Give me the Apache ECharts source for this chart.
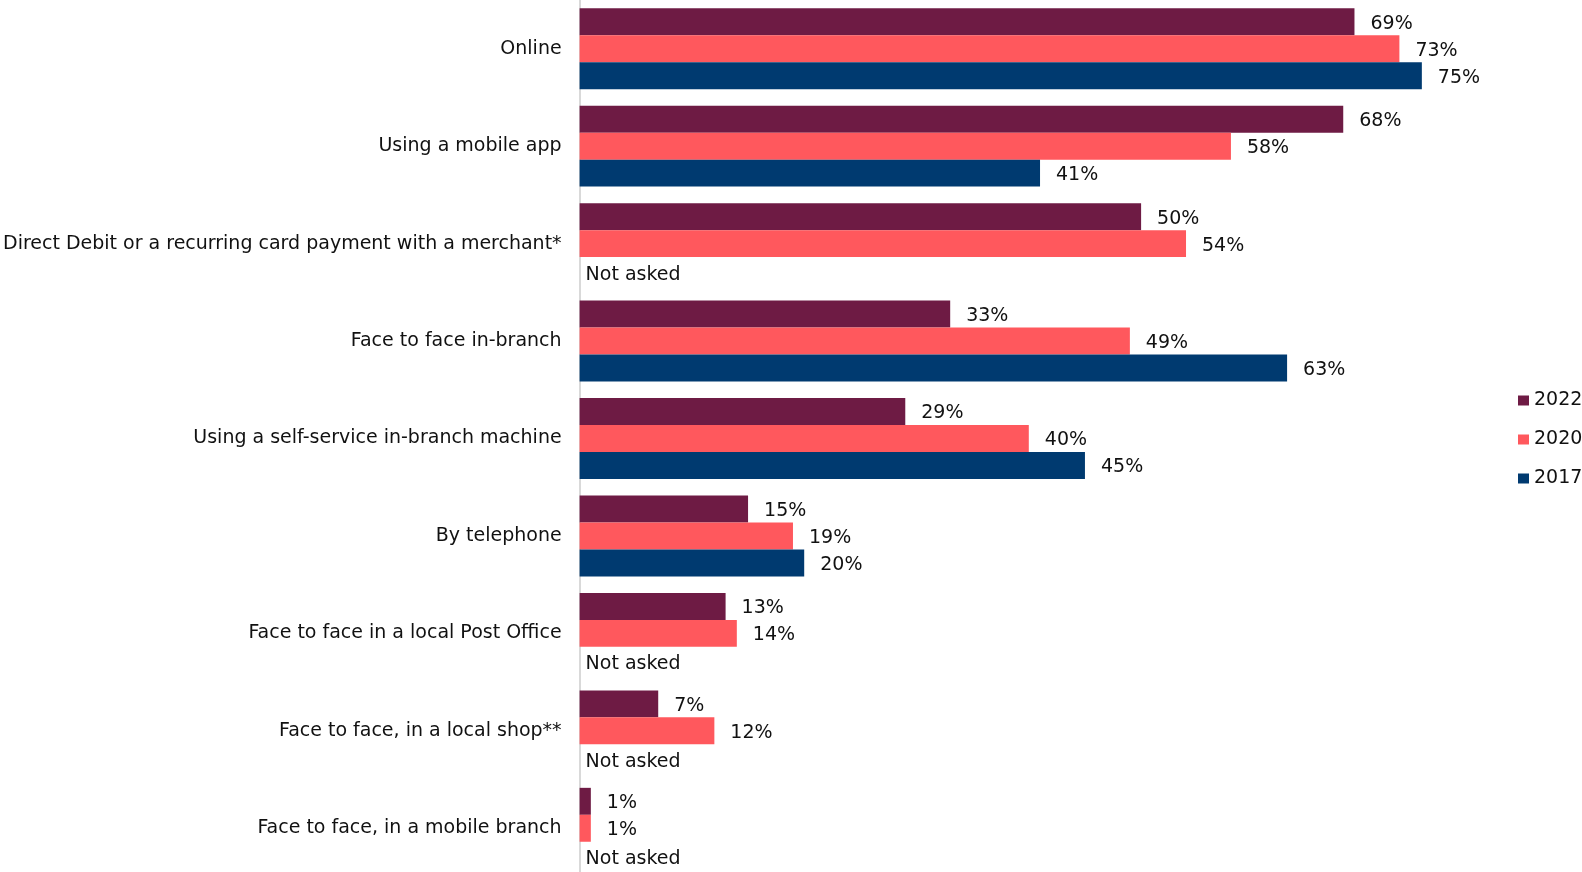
<!DOCTYPE html>
<html>
<head>
<meta charset="utf-8">
<script src="https://cdn.jsdelivr.net/npm/echarts@6/dist/echarts.min.js"></script>
<style>
  html, body { margin: 0; padding: 0; background: #fff; overflow: hidden; }
  #chart { width: 1582px; height: 880px; }
</style>
</head>
<body>
<div id="chart"></div>
<script>
// Ways of managing money, share of respondents by survey year
const categories = [
  'Online',
  'Using a mobile app',
  'Direct Debit or a recurring card payment with a merchant*',
  'Face to face in-branch',
  'Using a self-service in-branch machine',
  'By telephone',
  'Face to face in a local Post Office',
  'Face to face, in a local shop**',
  'Face to face, in a mobile branch'
];
const years = ['2022', '2020', '2017'];
const values2022 = [69, 68, 50, 33, 29, 15, 13, 7, 1];
const values2020 = [73, 58, 54, 49, 40, 19, 14, 12, 1];
// null = question not asked that year
const values2017 = [75, 41, null, 63, 45, 20, null, null, null];
const colors = ['#6e1b44', '#ff585d', '#003a70'];
const notAskedText = 'Not asked';

const FONT = 'DejaVu Sans, Verdana, sans-serif';
const TEXT_COLOR = '#111111';

function buildData(values) {
  return values.map(v => {
    if (v === null) {
      return {
        value: 0,
        itemStyle: { color: 'rgba(0,0,0,0)' },
        label: { formatter: notAskedText, distance: 6, offset: [0, 4] }
      };
    }
    return v;
  });
}

const seriesValues = [values2022, values2020, values2017];

const option = {
  animation: false,
  backgroundColor: '#ffffff',
  textStyle: { fontFamily: FONT },
  grid: { left: 579, top: -1, width: 899, height: 878, containLabel: false },
  legend: {
    data: years,
    orient: 'vertical',
    left: 1513,
    top: 386,
    itemWidth: 11,
    itemHeight: 10,
    itemGap: 20,
    icon: 'rect',
    textStyle: { fontFamily: FONT, fontSize: 19, color: TEXT_COLOR }
  },
  xAxis: {
    type: 'value',
    min: 0,
    max: 80,
    show: false
  },
  yAxis: {
    type: 'category',
    data: categories,
    inverse: true,
    axisLine: { show: true, lineStyle: { color: '#d9d9d9', width: 2 } },
    axisTick: { show: false },
    axisLabel: {
      margin: 18,
      padding: [2, 0, 0, 0],
      fontFamily: FONT,
      fontSize: 19,
      color: TEXT_COLOR
    }
  },
  series: years.map((y, i) => ({
    name: y,
    type: 'bar',
    data: buildData(seriesValues[i]),
    barGap: '0%',
    barCategoryGap: '17%',
    itemStyle: { color: colors[i] },
    label: {
      show: true,
      position: 'right',
      distance: 16,
      offset: [0, 2],
      formatter: '{c}%',
      fontFamily: FONT,
      fontSize: 19,
      color: TEXT_COLOR
    }
  }))
};

const chart = echarts.init(document.getElementById('chart'), null, { renderer: 'canvas' });
chart.setOption(option);
</script>
</body>
</html>
